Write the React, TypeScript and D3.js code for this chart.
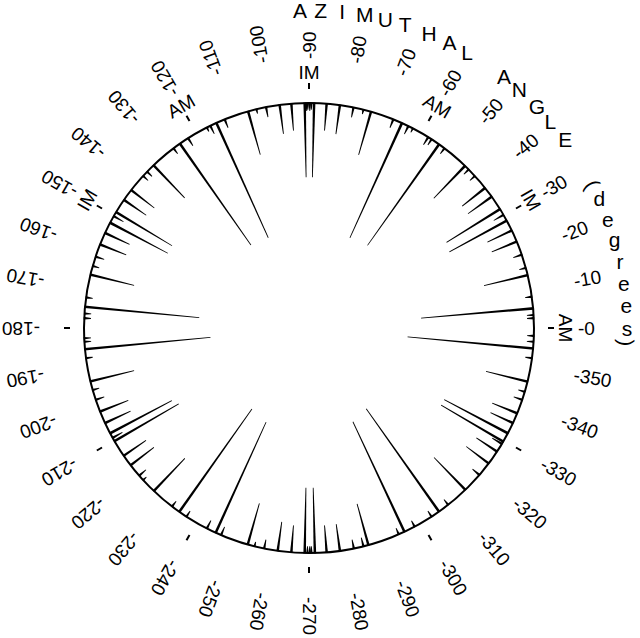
import React from "react";
import * as d3 from "d3";

// ---------- data ----------
// Spikes: [azimuth (deg, measured counter-clockwise from -0), relative length (fraction of radius)]
const spikesQ1: [number, number][] = [
  [2.5, 0.03], [3.3, 0.03], [5.0, 0.5], [8.0, 0.03], [13.6, 0.2], [15.5, 0.03],
  [19.0, 0.04], [22.6, 0.12], [25.7, 0.12], [28.5, 0.29], [30.2, 0.05], [31.9, 0.28],
  [35.7, 0.13], [38.5, 0.13], [42.5, 0.03], [44.8, 0.03], [46.1, 0.2], [53.0, 0.03],
  [54.7, 0.55], [57.0, 0.03], [58.0, 0.04], [62.5, 0.02], [63.8, 0.04], [65.6, 0.56],
  [68.0, 0.04], [74.0, 0.2], [76.0, 0.02], [78.6, 0.045], [82.1, 0.13], [85.5, 0.12],
  [88.7, 0.33], [89.4, 0.03], [89.8, 0.035],
];
const spikesQ2: [number, number][] = [
  [90.3, 0.03], [90.6, 0.035], [91.1, 0.33], [94.5, 0.12], [97.5, 0.13], [101.0, 0.045],
  [103.5, 0.02], [105.7, 0.2], [112.0, 0.04], [114.3, 0.56], [116.0, 0.04], [117.0, 0.02],
  [122.5, 0.04], [125.0, 0.55], [127.0, 0.03], [133.7, 0.2], [136.0, 0.03], [137.5, 0.03],
  [142.2, 0.13], [145.3, 0.12], [149.0, 0.29], [150.2, 0.05], [152.1, 0.29], [155.0, 0.12],
  [158.2, 0.125], [161.5, 0.04], [164.0, 0.03], [166.3, 0.2], [172.2, 0.03], [174.6, 0.51],
  [176.3, 0.03], [177.5, 0.03],
];
const spikesQ3: [number, number][] = [
  [182.6, 0.03], [183.5, 0.03], [185.4, 0.56], [187.7, 0.03], [193.7, 0.2], [196.0, 0.03],
  [198.6, 0.04], [201.8, 0.135], [205.0, 0.125], [207.9, 0.31], [209.2, 0.05], [210.2, 0.33],
  [214.6, 0.12], [217.6, 0.13], [221.0, 0.04], [222.5, 0.02], [226.4, 0.2], [232.5, 0.03],
  [234.8, 0.56], [237.0, 0.03], [243.0, 0.04], [245.5, 0.54], [247.0, 0.04], [254.2, 0.19],
  [256.0, 0.02], [258.5, 0.04], [262.0, 0.13], [265.5, 0.12], [268.9, 0.29], [269.6, 0.03],
  [270.2, 0.03],
];
const spikesQ4: [number, number][] = [
  [270.6, 0.03], [271.5, 0.29], [274.5, 0.12], [277.9, 0.12], [281.5, 0.04], [284.0, 0.04],
  [285.3, 0.19], [293.5, 0.03], [295.1, 0.54], [298.0, 0.03], [303.0, 0.03], [305.3, 0.56],
  [308.2, 0.03], [314.0, 0.2], [319.2, 0.04], [323.0, 0.125], [326.7, 0.11], [329.0, 0.05],
  [329.7, 0.32], [332.1, 0.32], [335.0, 0.11], [337.7, 0.12], [341.4, 0.04], [343.5, 0.03],
  [346.2, 0.19], [352.3, 0.03], [354.8, 0.56], [356.5, 0.03], [358.0, 0.03],
];

const tickValues = [0, 10, 20, 30, 40, 50, 60, 70, 80, 90, 100, 110, 120, 130, 140, 150, 160, 170,
  180, 190, 200, 210, 220, 230, 240, 250, 260, 270, 280, 290, 300, 310, 320, 330, 340, 350];
const tickLabels = tickValues.map((v) => "-" + v);

const markerValues = [0, 30, 60, 90, 120, 150, 180, 210, 240, 270, 300, 330];
const markerNames = ["AM", "IM", "AM", "IM", "AM", "IM", "", "", "", "", "", ""];

const titleChars = ["A", "Z", "I", "M", "U", "T", "H", "A", "L", "A", "N", "G", "L", "E",
  "(", "d", "e", "g", "r", "e", "e", "s", ")"];
const titleAngles = [91.6, 87.9, 84.0, 79.9, 76.1, 72.4, 67.8, 63.8, 60.2, 52.2, 48.6, 44.2, 40.6, 36.3,
  26.9, 24.1, 20.0, 16.1, 12.1, 8.0, 4.0, 0.0, -2.7];

// ---------- layout ----------
const W = 640;
const H = 638;
const CX = 309;
const CY = 328;
const R = 225;
const FONT = "'Liberation Sans', Arial, Helvetica, sans-serif";

const angle = d3.scaleLinear().domain([0, 360]).range([0, 2 * Math.PI]);
const radial = d3.scaleLinear().domain([0, 1]).range([R, 0]);

function pt(deg: number, r: number): [number, number] {
  const a = angle(deg);
  return [CX + r * Math.cos(a), CY - r * Math.sin(a)];
}

function spikePath(deg: number, len: number): string {
  const a = angle(deg);
  const ux = Math.cos(a), uy = -Math.sin(a);
  const px = -uy, py = ux;
  const r0 = R + 0.5;
  const r1 = radial(len);
  const w0 = 1.3, w1 = 0.4;
  const p = d3.path();
  p.moveTo(CX + r0 * ux + w0 * px, CY + r0 * uy + w0 * py);
  p.lineTo(CX + r1 * ux + w1 * px, CY + r1 * uy + w1 * py);
  p.lineTo(CX + r1 * ux - w1 * px, CY + r1 * uy - w1 * py);
  p.lineTo(CX + r0 * ux - w0 * px, CY + r0 * uy - w0 * py);
  p.closePath();
  return p.toString();
}

export default function App() {
  const spikes = [...spikesQ1, ...spikesQ2, ...spikesQ3, ...spikesQ4];
  return (
    <svg
      width={W}
      height={H}
      viewBox={`0 0 ${W} ${H}`}
      style={{ position: "absolute", left: 0, top: 0, background: "#fff" }}
      fontFamily={FONT}
    >
      <rect x={0} y={0} width={W} height={H} fill="#fff" />
      <circle cx={CX} cy={CY} r={R} fill="none" stroke="#000" strokeWidth={2} />
      {spikes.map(([deg, len], i) => (
        <path key={"s" + i} d={spikePath(deg, len)} fill="#000" />
      ))}
      {markerValues.map((deg, i) => {
        const [x0, y0] = pt(deg, 239);
        const [x1, y1] = pt(deg, 245);
        return <line key={"m" + i} x1={x0} y1={y0} x2={x1} y2={y1} stroke="#000" strokeWidth={2} />;
      })}
      {markerValues.map((deg, i) => {
        if (!markerNames[i]) return null;
        const [x, y] = pt(deg, 256);
        return (
          <text
            key={"n" + i}
            x={x}
            y={y}
            fontSize={19}
            textAnchor="middle"
            dominantBaseline="central"
            transform={`rotate(${90 - deg} ${x} ${y})`}
          >
            {markerNames[i]}
          </text>
        );
      })}
      {tickValues.map((deg, i) => {
        const [x, y] = pt(deg, 269);
        return (
          <text
            key={"t" + i}
            x={x}
            y={y}
            fontSize={19}
            textAnchor="start"
            dominantBaseline="central"
            transform={`rotate(${-deg} ${x} ${y})`}
          >
            {tickLabels[i]}
          </text>
        );
      })}
      {titleChars.map((ch, i) => {
        const deg = titleAngles[i];
        const [x, y] = pt(deg, 318);
        const isParen = ch === "(" || ch === ")";
        const isLower = ch >= "a" && ch <= "z";
        return (
          <text
            key={"c" + i}
            x={x}
            y={y}
            fontSize={isLower ? 21 : 21}
            textAnchor="middle"
            dominantBaseline="central"
            transform={isParen ? `rotate(${90 - deg} ${x} ${y})` : undefined}
          >
            {ch}
          </text>
        );
      })}
    </svg>
  );
}
